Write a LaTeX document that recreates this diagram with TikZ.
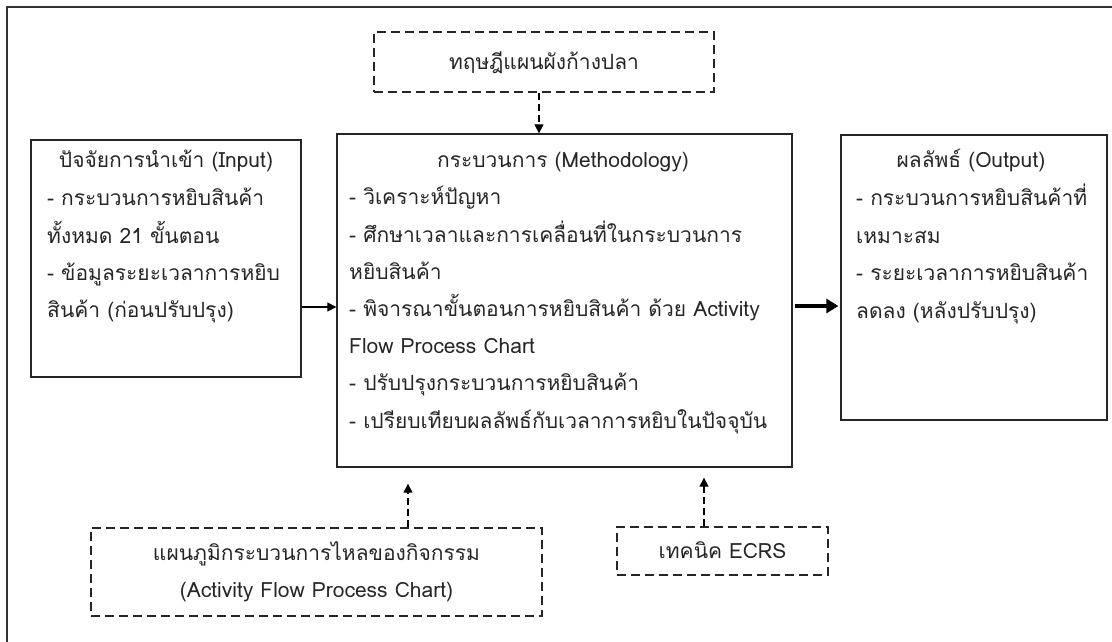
\documentclass[tikz,border=0pt]{standalone}
\usepackage{fontspec}
\setmainfont[Script=Thai]{Loma}
\usetikzlibrary{arrows.meta,calc}
\tikzset{
  solidbox/.style={draw=black!85, line width=1.3pt, inner sep=0pt},
  dashbox/.style={draw=black!85, line width=1.1pt, dash pattern=on 9pt off 5pt, inner sep=0pt},
  txt/.style={inner sep=0pt, font=\fontsize{21}{24}\selectfont, text=black!85, anchor=base},
  ltxt/.style={txt, anchor=base west},
  conn/.style={draw=black, line width=1.2pt, -{Triangle[length=9pt,width=9pt]}},
  dconn/.style={conn, dash pattern=on 7pt off 4pt},
  thick conn/.style={draw=black, line width=4pt, -{Triangle[length=12pt,width=14pt]}}
}
\begin{document}
\begin{tikzpicture}[x=1pt,y=-1pt]
\useasboundingbox (0,0) rectangle (1112,641);
\begin{scope}
\clip (0,0) rectangle (1112,641);
\draw[black!80, line width=2pt] (7,7) rectangle (1130,660);
\end{scope}

% boxes
\node[dashbox, minimum width=340pt, minimum height=60pt] (theory) at (544,62) {};
\node[solidbox, minimum width=270pt, minimum height=237pt] (input) at (166,258.5) {};
\node[solidbox, minimum width=455pt, minimum height=333pt] (method) at (564.5,300.5) {};
\node[solidbox, minimum width=266pt, minimum height=285pt] (output) at (974,277.5) {};
\node[dashbox, minimum width=451pt, minimum height=88pt] (chart) at (316.5,572) {};
\node[dashbox, minimum width=211pt, minimum height=48pt] (ecrs) at (722.5,551) {};

% texts (base line positions)
\node[txt] (theoryT) at (544,69) {ทฤษฎีแผนผังก้างปลา};

\node[txt] (inT) at (166,167) {ปัจจัยการนำเข้า (Input)};
\node[ltxt] (in1) at (47,205) {- กระบวนการหยิบสินค้า};
\node[ltxt] (in2) at (47,243) {ทั้งหมด 21 ขั้นตอน};
\node[ltxt] (in3) at (47,280) {- ข้อมูลระยะเวลาการหยิบ};
\node[ltxt] (in4) at (47,317) {สินค้า (ก่อนปรับปรุง)};

\node[txt] (meT) at (563,167) {กระบวนการ (Methodology)};
\node[ltxt] (me1) at (349,204) {- วิเคราะห์ปัญหา};
\node[ltxt] (me2) at (349,242) {- ศึกษาเวลาและการเคลื่อนที่ในกระบวนการ};
\node[ltxt] (me3) at (349,279) {หยิบสินค้า};
\node[ltxt] (me4) at (349,316) {- พิจารณาขั้นตอนการหยิบสินค้า ด้วย Activity};
\node[ltxt] (me5) at (349,353) {Flow Process Chart};
\node[ltxt] (me6) at (349,390) {- ปรับปรุงกระบวนการหยิบสินค้า};
\node[ltxt] (me7) at (349,428) {- เปรียบเทียบผลลัพธ์กับเวลาการหยิบในปัจจุบัน};

\node[txt] (outT) at (971,167) {ผลลัพธ์ (Output)};
\node[ltxt] (out1) at (856,205) {- กระบวนการหยิบสินค้าที่};
\node[ltxt] (out2) at (856,243) {เหมาะสม};
\node[ltxt] (out3) at (856,280) {- ระยะเวลาการหยิบสินค้า};
\node[ltxt] (out4) at (856,318) {ลดลง (หลังปรับปรุง)};

\node[txt] (ch1) at (316.5,560) {แผนภูมิกระบวนการไหลของกิจกรรม};
\node[txt] (ch2) at (316.5,597) {(Activity Flow Process Chart)};

\node[txt] (ecrsT) at (722.5,558) {เทคนิค ECRS};

% connectors
\draw[dconn] ([xshift=-5pt]theory.south) -- ([xshift=-5pt]theory.south |- method.north);
\draw[conn] (input.east |- 0,307) -- (method.west |- 0,307);
\draw[thick conn] ([xshift=2pt]method.east |- 0,306) -- ([xshift=-2pt]output.west |- 0,306);
\draw[dconn, shorten >=16pt] ([xshift=91.5pt]chart.north) -- ([xshift=91.5pt]chart.north |- method.south);
\draw[dconn, shorten >=10pt] ([xshift=-18.5pt]ecrs.north) -- ([xshift=-18.5pt]ecrs.north |- method.south);
\end{tikzpicture}
\end{document}
